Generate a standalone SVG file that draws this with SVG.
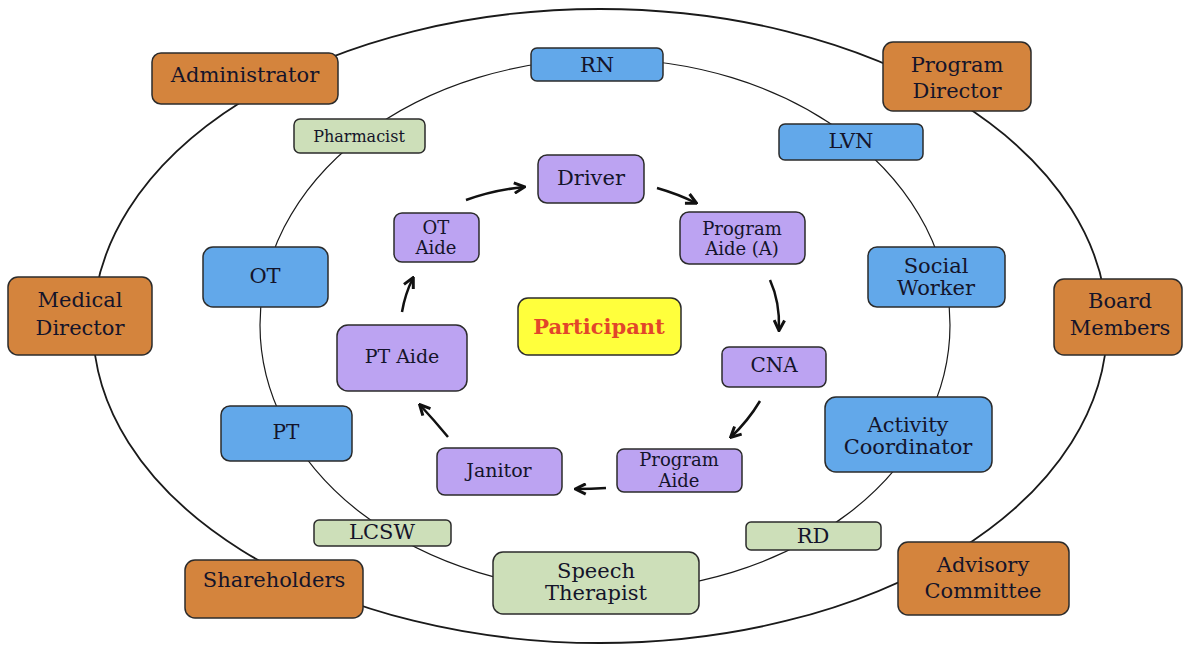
<svg xmlns="http://www.w3.org/2000/svg" width="1183" height="647" viewBox="0 0 1183 647">
  <style>
    .box { stroke: #2b2b2b; stroke-width: 1.5; }
    .org { fill: #D4843D; }
    .blue { fill: #62A8EA; }
    .green { fill: #CDDFB9; }
    .purple { fill: #BCA3F2; }
    .yellow { fill: #FFFF3C; }
    text { font-family: "DejaVu Serif", "Liberation Serif", serif; fill: #14142a; text-anchor: middle; }
    .t21 { font-size: 21px; }
    .t20 { font-size: 20px; }
    .t19 { font-size: 19px; }
    .t18 { font-size: 18px; }
    .t16 { font-size: 16px; }
    .part { font-size: 21px; font-weight: bold; fill: #E2462A; }
    .ring { fill: none; stroke: #1a1a1a; }
    .arrow { fill: none; stroke: #111; stroke-width: 2.5; marker-end: url(#head); }
  </style>
  <defs>
    <marker id="head" viewBox="0 0 10 10" refX="8.5" refY="5" markerWidth="13" markerHeight="13" markerUnits="userSpaceOnUse" orient="auto">
      <path d="M1,1 L9,5 L1,9" fill="none" stroke="#111" stroke-width="2.3" stroke-linejoin="miter"/>
    </marker>
  </defs>

  <rect width="1183" height="647" fill="#ffffff"/>

  <!-- outer and inner rings -->
  <g id="rings">
    <ellipse class="ring" cx="600" cy="326" rx="507" ry="317" stroke-width="1.8"/>
    <ellipse class="ring" cx="605" cy="325" rx="345" ry="266" stroke-width="1.2"/>
  </g>

  <!-- care cycle arrows -->
  <g id="connectors">
    <path class="arrow" d="M402,312 Q405,294 413,278"/>
    <path class="arrow" d="M466,200 Q494,190 524,187"/>
    <path class="arrow" d="M657,188 Q678,194 696,203"/>
    <path class="arrow" d="M770,280 Q780,302 779,330"/>
    <path class="arrow" d="M760,401 Q748,421 731,437"/>
    <path class="arrow" d="M606,488 Q591,489 576,489"/>
    <path class="arrow" d="M448,437 Q434,420 420,405"/>
  </g>

  <!-- outer ring: governance -->
  <g id="administrator">
    <rect class="box org" x="152" y="53" width="186" height="51" rx="9"/>
    <text class="t21" x="245" y="82">Administrator</text>
  </g>
  <g id="program-director">
    <rect class="box org" x="883" y="42" width="148" height="69" rx="10"/>
    <text class="t21" x="957" y="72">Program</text>
    <text class="t21" x="957" y="98">Director</text>
  </g>
  <g id="medical-director">
    <rect class="box org" x="8" y="277" width="144" height="78" rx="10"/>
    <text class="t21" x="80" y="307">Medical</text>
    <text class="t21" x="80" y="335">Director</text>
  </g>
  <g id="board-members">
    <rect class="box org" x="1054" y="279" width="128" height="76" rx="10"/>
    <text class="t21" x="1120" y="308">Board</text>
    <text class="t21" x="1120" y="335">Members</text>
  </g>
  <g id="shareholders">
    <rect class="box org" x="185" y="560" width="178" height="58" rx="10"/>
    <text class="t21" x="274" y="587">Shareholders</text>
  </g>
  <g id="advisory-committee">
    <rect class="box org" x="898" y="542" width="171" height="73" rx="10"/>
    <text class="t21" x="983" y="572">Advisory</text>
    <text class="t21" x="983" y="598">Committee</text>
  </g>

  <!-- middle ring: clinical staff -->
  <g id="rn">
    <rect class="box blue" x="531" y="48" width="132" height="33" rx="6"/>
    <text class="t21" x="597" y="72">RN</text>
  </g>
  <g id="lvn">
    <rect class="box blue" x="779" y="124" width="144" height="36" rx="6"/>
    <text class="t21" x="851" y="148">LVN</text>
  </g>
  <g id="social-worker">
    <rect class="box blue" x="868" y="247" width="137" height="60" rx="9"/>
    <text class="t21" x="936" y="273">Social</text>
    <text class="t21" x="936" y="295">Worker</text>
  </g>
  <g id="activity-coordinator">
    <rect class="box blue" x="825" y="397" width="167" height="75" rx="11"/>
    <text class="t21" x="908" y="432">Activity</text>
    <text class="t21" x="908" y="454">Coordinator</text>
  </g>
  <g id="ot">
    <rect class="box blue" x="203" y="247" width="125" height="60" rx="10"/>
    <text class="t21" x="265" y="283">OT</text>
  </g>
  <g id="pt">
    <rect class="box blue" x="221" y="406" width="131" height="55" rx="9"/>
    <text class="t20" x="286" y="439">PT</text>
  </g>
  <g id="pharmacist">
    <rect class="box green" x="294" y="119" width="131" height="34" rx="6"/>
    <text class="t16" x="359" y="142">Pharmacist</text>
  </g>
  <g id="lcsw">
    <rect class="box green" x="314" y="520" width="137" height="26" rx="5"/>
    <text class="t21" x="382" y="539">LCSW</text>
  </g>
  <g id="rd">
    <rect class="box green" x="746" y="522" width="135" height="28" rx="5"/>
    <text class="t21" x="813" y="543">RD</text>
  </g>
  <g id="speech-therapist">
    <rect class="box green" x="493" y="552" width="206" height="62" rx="10"/>
    <text class="t21" x="596" y="578">Speech</text>
    <text class="t21" x="596" y="600">Therapist</text>
  </g>

  <!-- inner circle: direct care cycle -->
  <g id="participant">
    <rect class="box yellow" x="518" y="298" width="163" height="57" rx="10"/>
    <text class="part" x="599" y="334">Participant</text>
  </g>
  <g id="driver">
    <rect class="box purple" x="538" y="155" width="106" height="48" rx="9"/>
    <text class="t21" x="591" y="185">Driver</text>
  </g>
  <g id="program-aide-a">
    <rect class="box purple" x="680" y="212" width="125" height="52" rx="9"/>
    <text class="t18" x="742" y="235">Program</text>
    <text class="t18" x="742" y="255">Aide (A)</text>
  </g>
  <g id="cna">
    <rect class="box purple" x="722" y="347" width="104" height="40" rx="7"/>
    <text class="t20" x="774" y="372">CNA</text>
  </g>
  <g id="program-aide">
    <rect class="box purple" x="617" y="449" width="125" height="43" rx="7"/>
    <text class="t18" x="679" y="466">Program</text>
    <text class="t18" x="679" y="487">Aide</text>
  </g>
  <g id="janitor">
    <rect class="box purple" x="437" y="448" width="125" height="47" rx="8"/>
    <text class="t19" x="499" y="477">Janitor</text>
  </g>
  <g id="pt-aide">
    <rect class="box purple" x="337" y="325" width="130" height="66" rx="11"/>
    <text class="t19" x="402" y="363">PT Aide</text>
  </g>
  <g id="ot-aide">
    <rect class="box purple" x="394" y="213" width="85" height="49" rx="8"/>
    <text class="t18" x="436" y="234">OT</text>
    <text class="t18" x="436" y="254">Aide</text>
  </g>
</svg>
